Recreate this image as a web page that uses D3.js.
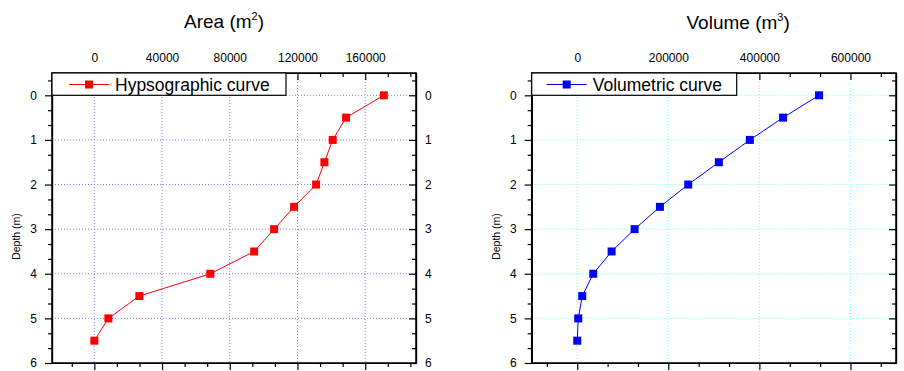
<!DOCTYPE html>
<html>
<head>
<meta charset="utf-8">
<script src="https://cdn.jsdelivr.net/npm/d3@7"></script>
<style>
  body { margin: 0; background: #fff; }
  svg { display: block; font-family: Arial, "Liberation Sans", sans-serif; }
  .axis path { stroke: #000; stroke-width: 1.2; }
  .axis line { stroke: #000; stroke-width: 1.2; }
  .axis text { font-size: 12px; fill: #000; }
</style>
</head>
<body>
<div id="chart"></div>
<script>
// depth levels (m), shared by both curves
const depths = [0, 0.5, 1, 1.5, 2, 2.5, 3, 3.5, 4, 4.5, 5, 5.5];
// area at each depth (m^2)
const areaValues = [171000, 148700, 140800, 135900, 131000, 118000, 106200, 94400, 68500, 26600, 8300, 0];
// cumulative volume at each depth (m^3)
const volumeValues = [531000, 452000, 379100, 311000, 243700, 181600, 126000, 75500, 35100, 11000, 2200, 0];

const areaTicks = [0, 40000, 80000, 120000, 160000];
const volumeTicks = [0, 200000, 400000, 600000];
const depthTicks = [0, 1, 2, 3, 4, 5, 6];

const svg = d3.select('#chart')
  .append('svg')
  .attr('width', 904)
  .attr('height', 371);

function drawPanel(opts) {
  const {left, right, top, bottom} = opts;

  const x = d3.scaleLinear().domain(opts.xDomain).range([left, right]);
  const y = d3.scaleLinear().domain([-0.5, 6]).range([top, bottom]);

  const g = svg.append('g');

  // minor ticks: 2 between each major
  const xStep = opts.xTicks[1] - opts.xTicks[0];
  const xMinor = d3.range(Math.ceil(opts.xDomain[0] / (xStep / 3)), Math.floor(opts.xDomain[1] / (xStep / 3)) + 1)
    .map(i => i * xStep / 3)
    .filter(v => !opts.xTicks.some(t => Math.abs(t - v) < 1e-6));
  const yMinor = d3.range(-1, 19).map(i => i / 3)
    .filter(v => v >= -0.5 && v <= 6 && Math.abs(v - Math.round(v)) > 1e-6);

  // grid
  g.append('g')
    .selectAll('line.vg')
    .data(opts.xTicks)
    .join('line')
    .attr('x1', d => x(d)).attr('x2', d => x(d))
    .attr('y1', top).attr('y2', bottom)
    .attr('stroke', opts.gridColor)
    .attr('stroke-width', 1)
    .attr('stroke-dasharray', '1,2');
  g.append('g')
    .selectAll('line.hg')
    .data(depthTicks.filter(d => d < 6))
    .join('line')
    .attr('x1', left).attr('x2', right)
    .attr('y1', d => y(d)).attr('y2', d => y(d))
    .attr('stroke', opts.gridColor)
    .attr('stroke-width', 1)
    .attr('stroke-dasharray', '1,2');

  // top axis (labels), ticks inward
  g.append('g').attr('class', 'axis')
    .attr('transform', `translate(0,${top})`)
    .call(d3.axisTop(x).tickValues(opts.xTicks).tickSizeInner(-7).tickSizeOuter(0).tickPadding(11).tickFormat(d3.format('d')));
  g.append('g').attr('class', 'axis')
    .attr('transform', `translate(0,${top})`)
    .call(d3.axisTop(x).tickValues(xMinor).tickSizeInner(-4).tickSizeOuter(0).tickFormat(''));

  // bottom axis, ticks outward, no labels
  g.append('g').attr('class', 'axis')
    .attr('transform', `translate(0,${bottom})`)
    .call(d3.axisBottom(x).tickValues(opts.xTicks).tickSizeInner(7).tickSizeOuter(0).tickFormat(''));
  g.append('g').attr('class', 'axis')
    .attr('transform', `translate(0,${bottom})`)
    .call(d3.axisBottom(x).tickValues(xMinor).tickSizeInner(4).tickSizeOuter(0).tickFormat(''));

  // left axis, ticks outward
  g.append('g').attr('class', 'axis')
    .attr('transform', `translate(${left},0)`)
    .call(d3.axisLeft(y).tickValues(depthTicks).tickSizeInner(7).tickSizeOuter(0).tickPadding(8).tickFormat(d3.format('d')));
  g.append('g').attr('class', 'axis')
    .attr('transform', `translate(${left},0)`)
    .call(d3.axisLeft(y).tickValues(yMinor).tickSizeInner(4).tickSizeOuter(0).tickFormat(''));

  // right axis, ticks inward (labels fall off the page for the right panel)
  g.append('g').attr('class', 'axis')
    .attr('transform', `translate(${right},0)`)
    .call(d3.axisRight(y).tickValues(depthTicks).tickSizeInner(-7).tickSizeOuter(0).tickPadding(9)
      .tickFormat(opts.rightLabels ? d3.format('d') : ''));
  g.append('g').attr('class', 'axis')
    .attr('transform', `translate(${right},0)`)
    .call(d3.axisRight(y).tickValues(yMinor).tickSizeInner(-4).tickSizeOuter(0).tickFormat(''));

  // frame
  g.append('rect')
    .attr('x', left).attr('y', top)
    .attr('width', right - left).attr('height', bottom - top)
    .attr('fill', 'none')
    .attr('stroke', '#000')
    .attr('stroke-width', 1.5);

  // curve
  const pts = depths.map((d, i) => ({depth: d, v: opts.values[i]}));
  g.append('path')
    .datum(pts)
    .attr('fill', 'none')
    .attr('stroke', opts.color)
    .attr('stroke-width', 1)
    .attr('d', d3.line().x(d => x(d.v)).y(d => y(d.depth)));
  g.selectAll('rect.pt')
    .data(pts)
    .join('rect')
    .attr('class', 'pt')
    .attr('x', d => x(d.v) - 4)
    .attr('y', d => y(d.depth) - 4)
    .attr('width', 8).attr('height', 8)
    .attr('fill', opts.color);

  // legend
  const leg = g.append('g');
  leg.append('rect')
    .attr('x', left).attr('y', top)
    .attr('width', opts.legendWidth).attr('height', y(0) - top)
    .attr('fill', '#fff')
    .attr('stroke', '#000')
    .attr('stroke-width', 1.2);
  const ly = top + 11.5;
  leg.append('line')
    .attr('x1', left + opts.legendPad).attr('x2', left + opts.legendPad + 40)
    .attr('y1', ly).attr('y2', ly)
    .attr('stroke', opts.color).attr('stroke-width', 1);
  leg.append('rect')
    .attr('x', left + opts.legendPad + 20 - 4).attr('y', ly - 4)
    .attr('width', 8).attr('height', 8)
    .attr('fill', opts.color);
  leg.append('text')
    .attr('x', left + opts.legendPad + 46)
    .attr('y', top + 18)
    .attr('font-size', '17.5px')
    .text(opts.legendLabel);

  // title with superscript
  const t = g.append('text')
    .attr('x', opts.titleX)
    .attr('y', opts.titleY)
    .attr('font-size', '19px');
  t.append('tspan').text(opts.title + ' (m');
  t.append('tspan').attr('dy', -8).attr('font-size', '11px').text(opts.sup);
  t.append('tspan').attr('dy', 8).text(')');

  // y label
  g.append('text')
    .attr('transform', `translate(${opts.yLabelX},236.5) rotate(-90)`)
    .attr('text-anchor', 'middle')
    .attr('font-size', '10.5px')
    .text('Depth (m)');
}

drawPanel({
  left: 52, right: 416, top: 73, bottom: 363,
  xDomain: [-25000, 190000],
  xTicks: areaTicks,
  values: areaValues,
  color: '#ff0000',
  gridColor: '#8080ff',
  legendWidth: 234, legendPad: 17,
  legendLabel: 'Hypsographic curve',
  rightLabels: true,
  title: 'Area', sup: '2', titleX: 184, titleY: 27.5,
  yLabelX: 19.5
});

drawPanel({
  left: 531.7, right: 896, top: 73, bottom: 363,
  xDomain: [-100000, 700000],
  xTicks: volumeTicks,
  values: volumeValues,
  color: '#0000ff',
  gridColor: '#66ffff',
  legendWidth: 205, legendPad: 15,
  legendLabel: 'Volumetric curve',
  rightLabels: false,
  title: 'Volume', sup: '3', titleX: 686.5, titleY: 29,
  yLabelX: 499.5
});
</script>
</body>
</html>
